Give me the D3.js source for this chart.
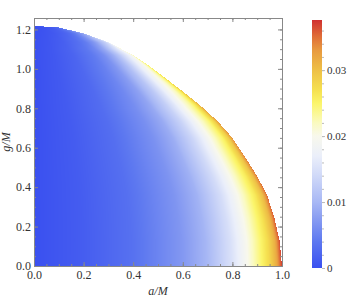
<!DOCTYPE html>
<html>
<head>
<meta charset="utf-8">
<script src="https://cdn.jsdelivr.net/npm/d3@7"></script>
<style>
  body { margin: 0; background: #fff; }
  text { font-family: "Liberation Serif", "DejaVu Serif", serif; fill: #333; }
</style>
</head>
<body>
<div id="chart"></div>
<script>
var width = 352,
    height = 299;

// edge of the region (a/M, g/M)
var edgeA = [0, 0.1, 0.2, 0.3, 0.4, 0.47, 0.6, 0.67, 0.74, 0.8, 0.85, 0.9, 0.94, 0.97, 0.99, 1];
var edgeG = [1.218, 1.21, 1.18, 1.135, 1.07, 1.01, 0.886, 0.815, 0.735, 0.65, 0.555, 0.455, 0.36, 0.24, 0.13, 0];

// value reached at the edge, for each row of g/M
var rowG    = [0, 0.2, 0.4, 0.6, 0.8, 0.9, 1.0, 1.1, 1.15, 1.2, 1.218];
var rowEdge = [0.037, 0.036, 0.035, 0.034, 0.032, 0.029, 0.026, 0.021, 0.015, 0.006, 0.002];

// how a row fills up, from a = 0 (rho 0) to the edge (rho 1)
var rho   = [0, 0.2, 0.4, 0.6, 0.7, 0.8, 0.85, 0.9, 0.95, 0.98, 1];
var share = [0, 0.035, 0.09, 0.19, 0.27, 0.41, 0.51, 0.63, 0.75, 0.86, 1];

// colour bar
var barStops  = [0, 0.004, 0.008, 0.01, 0.014, 0.017, 0.02, 0.022, 0.025, 0.027, 0.03, 0.033, 0.035, 0.0376];
var barColors = ["#3a50f0", "#5d78f0", "#8fa2f2", "#a8b8f5", "#d0d9f8", "#ebeffa", "#f8f8ec",
                 "#fafac0", "#fbf56a", "#f5e050", "#eec046", "#e89a40", "#e07038", "#d03030"];
var barTicks = [0, 0.01, 0.02, 0.03];
var barMinor = d3.range(0, 0.0376, 0.002);

var xTicks = [0, 0.2, 0.4, 0.6, 0.8, 1.0];
var yTicks = [0, 0.2, 0.4, 0.6, 0.8, 1.0, 1.2];
var xMinor = d3.range(0, 1.0001, 0.05);
var yMinor = d3.range(0, 1.25, 0.05);

var x = d3.scaleLinear().domain([0, 1]).range([34, 282]);
var y = d3.scaleLinear().domain([0, 1.258]).range([266, 18]);
var c = d3.scaleLinear().domain([0, 0.0376]).range([268, 20]);

var color = d3.scaleLinear().domain(barStops).range(barColors).clamp(true);
var aOfG = d3.scaleLinear().domain(edgeG.slice().reverse()).range(edgeA.slice().reverse());
var edgeOf = d3.scaleLinear().domain(rowG).range(rowEdge).clamp(true);
var shareOf = d3.scaleLinear().domain(rho).range(share).clamp(true);

var svg = d3.select("#chart").append("svg")
    .attr("width", width)
    .attr("height", height)

/* paint the density into a canvas, then drop it into the svg */
var px0 = Math.round(x(0)), px1 = Math.round(x(1)),
    py0 = Math.round(y(1.258)), py1 = Math.round(y(0));
var cw = px1 - px0, ch = py1 - py0;
var canvas = document.createElement("canvas");
canvas.width = cw; canvas.height = ch;
var ctx = canvas.getContext("2d");
var img = ctx.createImageData(cw, ch);
for (var j = 0; j < ch; j++) {
  var g = y.invert(py0 + j + 0.5);
  if (g > edgeG[0]) continue;
  var amax = aOfG(g), vEdge = edgeOf(g);
  for (var i = 0; i < cw; i++) {
    var a = x.invert(px0 + i + 0.5);
    if (a > amax) continue;
    var col = d3.rgb(color(vEdge * shareOf(a / amax)));
    var k = (j * cw + i) * 4;
    img.data[k] = col.r; img.data[k + 1] = col.g; img.data[k + 2] = col.b; img.data[k + 3] = 255;
  }
}
ctx.putImageData(img, 0, 0);
svg.append("image")
    .attr("x", px0).attr("y", py0)
    .attr("width", cw).attr("height", ch)
    .attr("href", canvas.toDataURL());

/* frame with inward ticks */
function frame(axis, minor, tr) {
  var gAx = svg.append("g").attr("transform", tr).call(axis);
  svg.append("g").attr("transform", tr).call(minor);
  return gAx;
}
frame(d3.axisBottom(x).tickValues(xTicks).tickSize(-4).tickSizeOuter(0).tickPadding(4).tickFormat(d3.format(".1f")),
      d3.axisBottom(x).tickValues(xMinor).tickSize(-2).tickSizeOuter(0).tickFormat(""),
      "translate(0," + y(0) + ")");
frame(d3.axisLeft(y).tickValues(yTicks).tickSize(-4).tickSizeOuter(0).tickPadding(3).tickFormat(d3.format(".1f")),
      d3.axisLeft(y).tickValues(yMinor).tickSize(-2).tickSizeOuter(0).tickFormat(""),
      "translate(" + x(0) + ",0)");
frame(d3.axisTop(x).tickValues(xTicks).tickSize(-4).tickSizeOuter(0).tickFormat(""),
      d3.axisTop(x).tickValues(xMinor).tickSize(-2).tickSizeOuter(0).tickFormat(""),
      "translate(0," + y(1.258) + ")");
frame(d3.axisRight(y).tickValues(yTicks).tickSize(-4).tickSizeOuter(0).tickFormat(""),
      d3.axisRight(y).tickValues(yMinor).tickSize(-2).tickSizeOuter(0).tickFormat(""),
      "translate(" + x(1) + ",0)");

svg.selectAll(".domain, .tick line").attr("stroke", "#888");
svg.selectAll(".tick text").style("font-size", "12px").attr("fill", "#333");

/* axis titles */
svg.append("text")
    .attr("x", 158).attr("y", 295)
    .attr("text-anchor", "middle")
    .style("font-size", "12px").style("font-style", "italic")
    .text("a/M")
svg.append("text")
    .attr("transform", "translate(10,142) rotate(-90)")
    .attr("text-anchor", "middle")
    .style("font-size", "12px").style("font-style", "italic")
    .text("g/M")

/* colour bar */
var grad = svg.append("defs").append("linearGradient")
    .attr("id", "bar").attr("x1", 0).attr("y1", 1).attr("x2", 0).attr("y2", 0);
grad.selectAll("stop").data(barStops).enter().append("stop")
    .attr("offset", function(d){ return d / 0.0376 })
    .attr("stop-color", function(d){ return color(d) });
svg.append("rect")
    .attr("x", 312).attr("y", c(0.0376))
    .attr("width", 10).attr("height", c(0) - c(0.0376))
    .attr("fill", "url(#bar)");

var barAxis = svg.append("g").attr("class", "bar").attr("transform", "translate(322,0)")
    .call(d3.axisRight(c).tickValues(barTicks).tickSize(3).tickSizeOuter(0).tickPadding(2)
      .tickFormat(function(d){ return d === 0 ? "0" : d3.format(".2f")(d) }));
svg.append("g").attr("class", "bar").attr("transform", "translate(322,0)")
    .call(d3.axisRight(c).tickValues(barMinor).tickSize(2).tickSizeOuter(0).tickFormat(""));
svg.selectAll("g.bar .domain").remove();
svg.selectAll("g.bar .tick line").attr("stroke", "#bbb");
barAxis.selectAll("text").style("font-size", "11px").attr("fill", "#333");
</script>
</body>
</html>
